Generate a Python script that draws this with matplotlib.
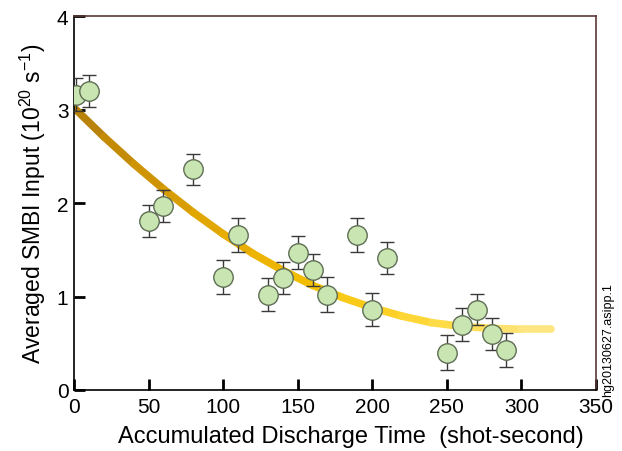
import matplotlib
matplotlib.use("Agg")
import matplotlib.pyplot as plt
import numpy as np
from matplotlib.collections import LineCollection
from matplotlib.colors import LinearSegmentedColormap

plt.rcParams['font.family'] = ['Liberation Sans', 'DejaVu Sans']
plt.rcParams['mathtext.fontset'] = 'custom'
plt.rcParams['mathtext.rm'] = 'Liberation Sans'
plt.rcParams['mathtext.it'] = 'Liberation Sans'
plt.rcParams['mathtext.default'] = 'regular'

# Data points
time_x = [1, 10, 50, 60, 80, 100, 110, 130, 140, 150, 160, 170, 190, 200, 210, 250, 260, 270, 280, 290]
smbi_y = [3.16, 3.20, 1.81, 1.97, 2.36, 1.21, 1.66, 1.02, 1.20, 1.47, 1.28, 1.02, 1.66, 0.86, 1.41, 0.40, 0.70, 0.86, 0.60, 0.43]
smbi_err = [0.18, 0.17, 0.17, 0.17, 0.17, 0.18, 0.18, 0.18, 0.17, 0.18, 0.17, 0.19, 0.18, 0.18, 0.17, 0.19, 0.18, 0.17, 0.17, 0.18]

# Fitted trend curve samples
curve_x = [0, 20, 40, 60, 80, 100, 120, 140, 160, 180, 200, 220, 240, 260, 280, 300, 320]
curve_y = [3.02, 2.71, 2.42, 2.15, 1.90, 1.67, 1.46, 1.28, 1.12, 0.99, 0.88, 0.79, 0.72, 0.68, 0.66, 0.65, 0.65]

x_ticks = [0, 50, 100, 150, 200, 250, 300, 350]
y_ticks = [0, 1, 2, 3, 4]

fig = plt.figure(figsize=(6.22, 4.52), dpi=100)
ax = fig.add_axes([0.119, 0.135, 0.839, 0.827])

# gradient curve
pts = np.array([curve_x, curve_y]).T.reshape(-1, 1, 2)
segs = np.concatenate([pts[:-1], pts[1:]], axis=1)
cmap = LinearSegmentedColormap.from_list('gold', ['#b98208', '#e0a400', '#f5c000', '#ffd83a', '#ffe680'])
lc = LineCollection(segs, cmap=cmap, linewidths=5.5, capstyle='round', joinstyle='round')
lc.set_array(np.linspace(0, 1, len(segs)))
ax.add_collection(lc)

ax.errorbar(time_x, smbi_y, yerr=smbi_err, fmt='o', ms=14, mfc='#c9e6b2', mec='#5f6e55',
            mew=1.0, ecolor='#3a3a3a', elinewidth=1.0, capsize=5, capthick=1.0, zorder=3)

ax.set_xlim(0, 350)
ax.set_ylim(0, 4)
ax.set_xticks(x_ticks)
ax.set_yticks(y_ticks)
ax.tick_params(direction='in', length=8, width=2, labelsize=15, pad=4, color='black')
ax.tick_params(axis='x', pad=5)
for s in ['left', 'bottom']:
    ax.spines[s].set_color('black')
    ax.spines[s].set_linewidth(1.2)
for s in ['top', 'right']:
    ax.spines[s].set_color('#5a3838')
    ax.spines[s].set_linewidth(1.2)

ax.set_xlabel('Accumulated Discharge Time  (shot-second)', fontsize=17)
ax.xaxis.set_label_coords(0.53, -0.095)
ax.set_ylabel('Averaged SMBI Input (10$^{20}$ s$^{-1}$)', fontsize=16.5, labelpad=6)

fig.text(0.977, 0.122, 'hg20130627.asipp.1', rotation=90, fontsize=9, ha='center', va='bottom')

fig.savefig('out.png', dpi=100)
